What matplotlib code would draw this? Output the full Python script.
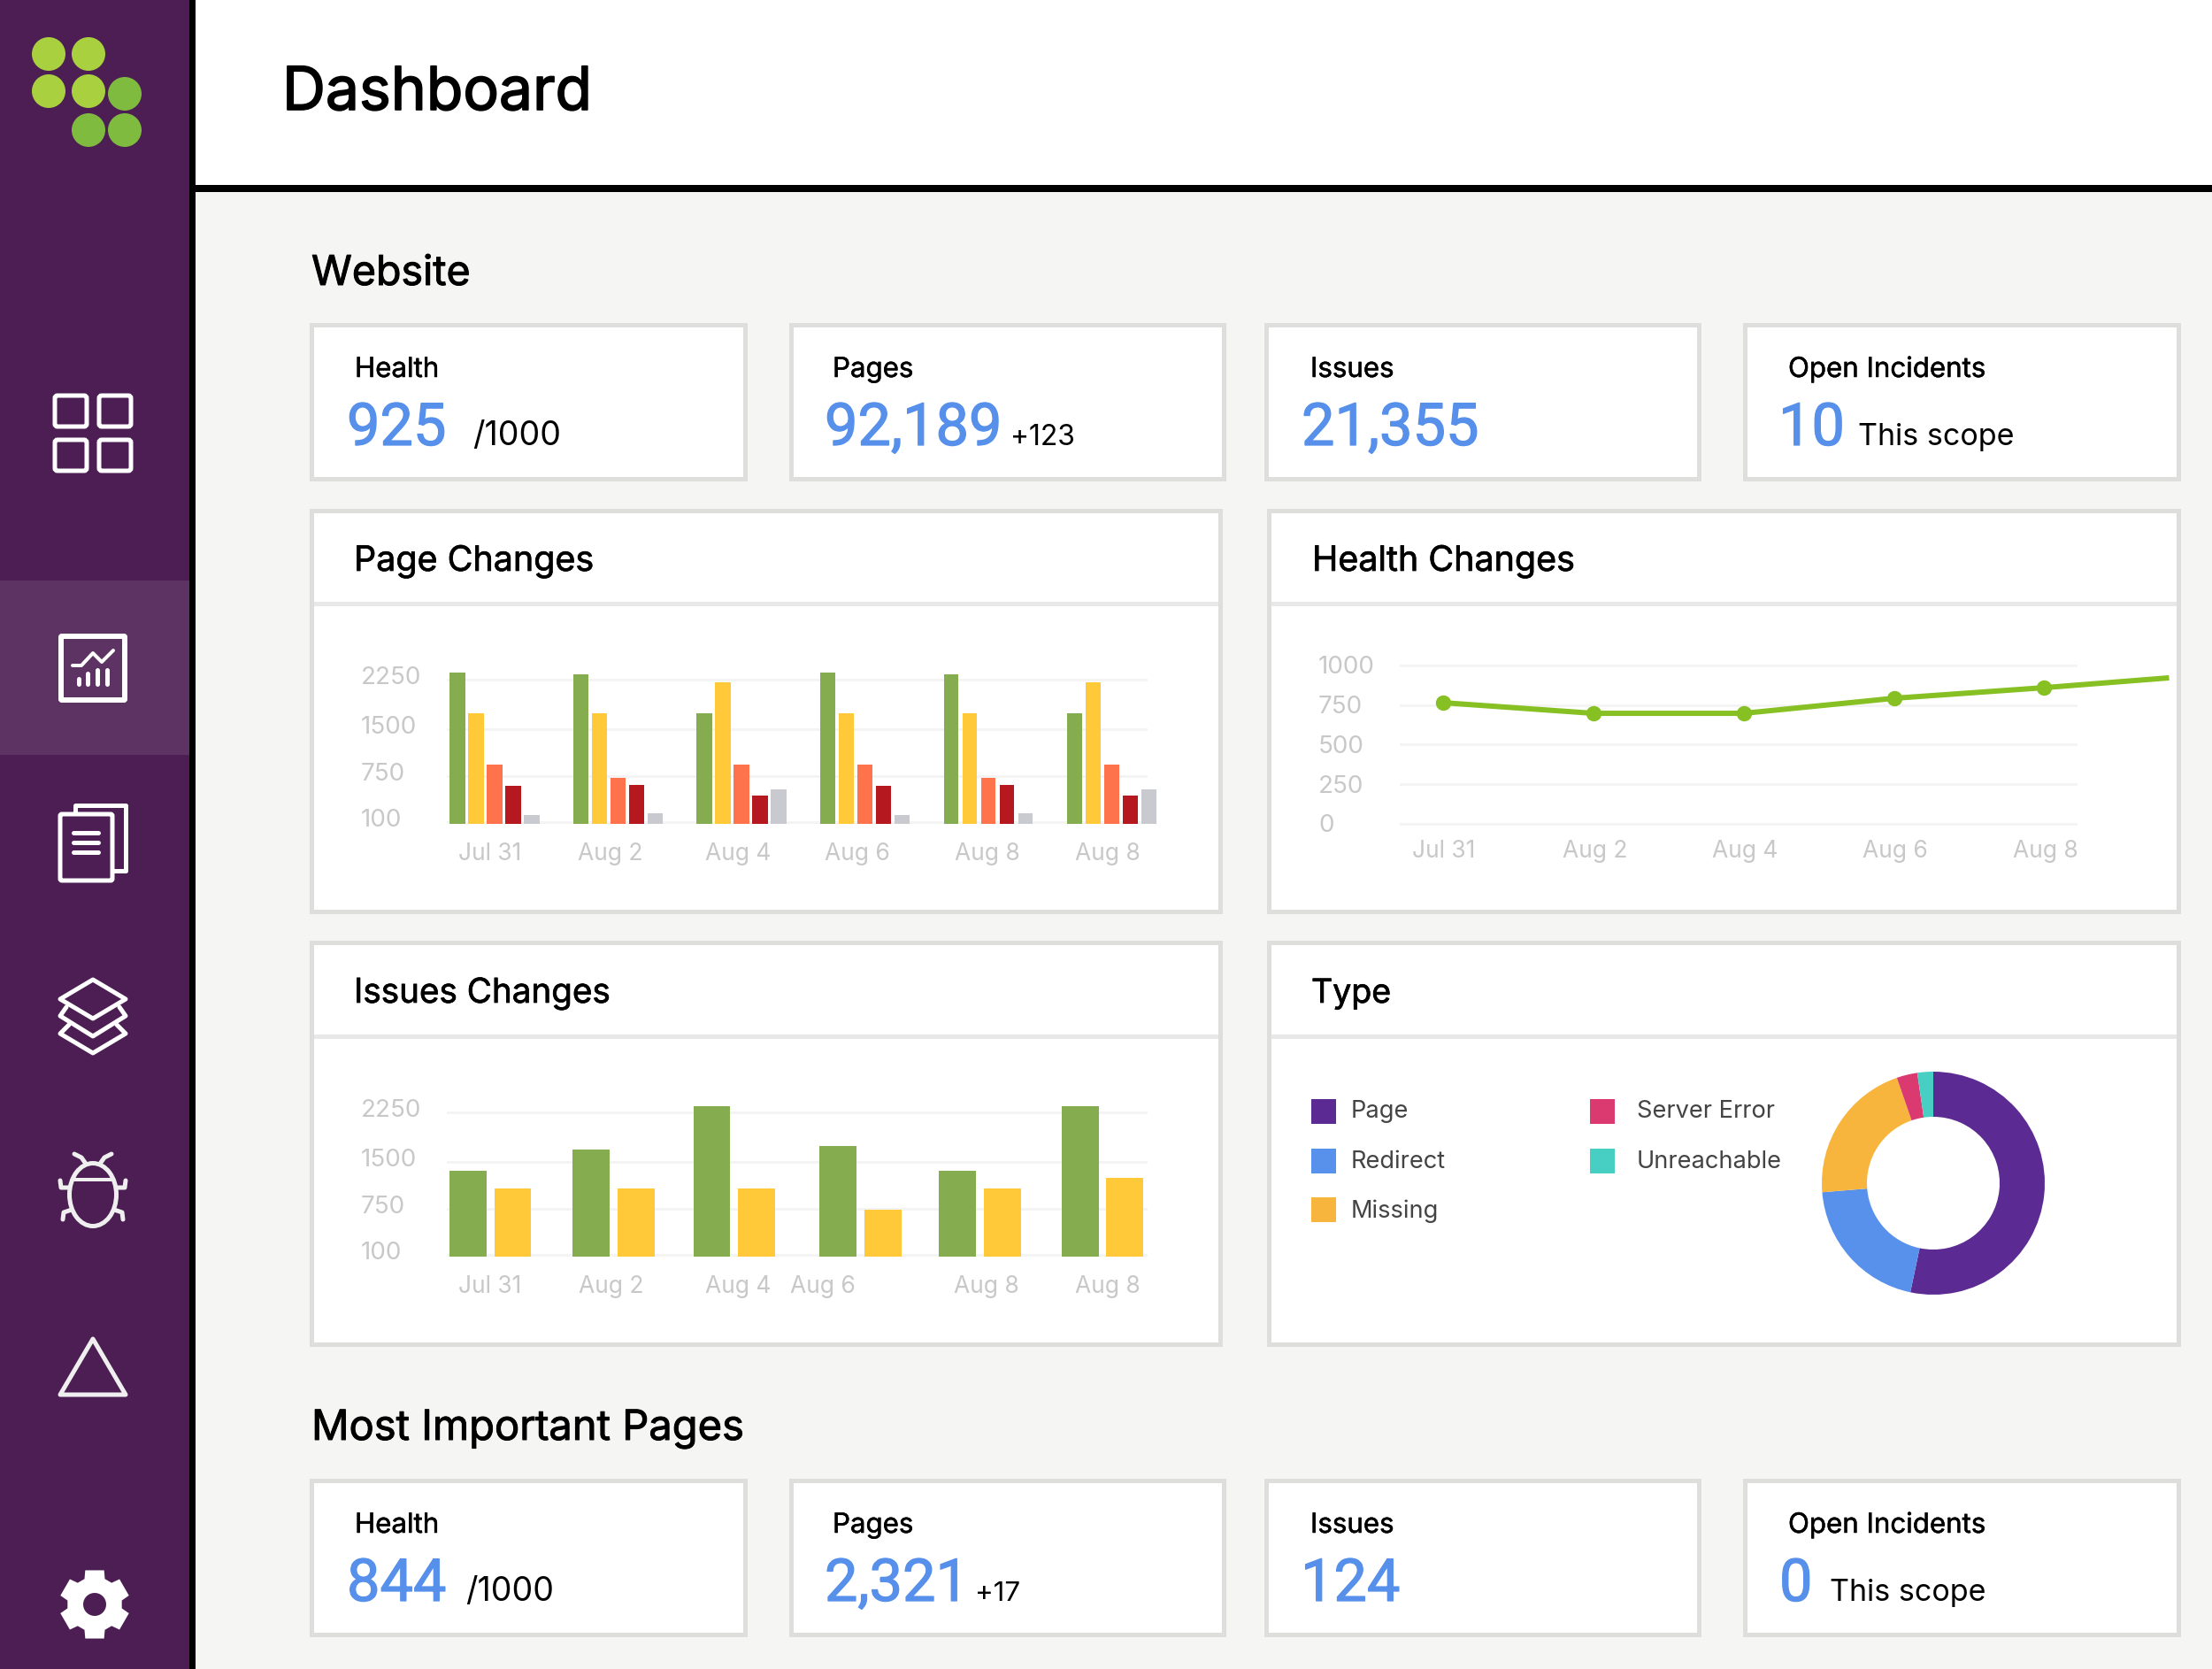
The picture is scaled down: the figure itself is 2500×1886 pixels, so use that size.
#!/usr/bin/env python3
"""Site audit dashboard mockup: sidebar, stat cards, three charts and a donut."""
import numpy as np
import matplotlib
matplotlib.use("Agg")
import matplotlib.pyplot as plt
import matplotlib.patheffects as pe
from matplotlib.patches import Rectangle, FancyBboxPatch, Circle, Ellipse, Polygon, PathPatch
from matplotlib.path import Path
from matplotlib.transforms import ScaledTranslation

W, H = 2500, 1886
PX = 0.72  # points per pixel at dpi 100

SIDEBAR = "#4C1E53"
SIDEBAR_ON = "#5D3363"
BG = "#F5F5F3"
BORDER = "#DEDEDC"
DIVIDER = "#E8E8E8"
GRID = "#F4F4F4"
TICK = "#C8C8C8"
BLUE = "#5790EB"
GREEN = "#85AC4E"
YELLOW = "#FFC93A"
ORANGE = "#FF734C"
RED = "#B5181F"
GREY = "#C9CACF"
LINE_GREEN = "#86C023"

# ---- data ----
DATES = ["Jul 31", "Aug 2", "Aug 4", "Aug 6", "Aug 8", "Aug 8"]
AXIS_TICKS = [100, 750, 1500, 2250]
AXIS_LABELS = ["100", "750", "1500", "2250"]

PAGE_GREEN = [2360, 2330, 1740, 2360, 2330, 1740]
PAGE_YELLOW = [1740, 1740, 2210, 1740, 1740, 2210]
PAGE_ORANGE = [935, 725, 935, 935, 725, 935]
PAGE_RED = [612, 625, 475, 612, 625, 475]
PAGE_GREY = [200, 225, 560, 200, 225, 560]

ISSUE_GREEN = [1358, 1690, 2345, 1740, 1358, 2345]
ISSUE_YELLOW = [1075, 1075, 1075, 740, 1075, 1245]

HEALTH_X = [0, 1, 2, 3, 4, 4.83]
HEALTH_Y = [765, 698, 698, 793, 860, 922]
HEALTH_TICKS = [0, 250, 500, 750, 1000]

TYPE_NAMES = ["Page", "Redirect", "Missing", "Server Error", "Unreachable"]
TYPE_SHARE = [53.3, 20.4, 21.0, 3.0, 2.3]
TYPE_COLORS = ["#5C2A93", "#5891EB", "#F7B53D", "#DB3A70", "#48CFC3"]

# the bar charts' value axis is not linear: its ticks are about evenly spaced
SCALE_VALUES = [75, 100, 750, 1500, 2250, 3000]
SCALE_STEPS = [-2, 0, 52, 105, 161, 217]

plt.rcParams["font.family"] = ["Inter", "Roboto", "DejaVu Sans"]

fig = plt.figure(figsize=(W / 100, H / 100), dpi=100)
fig.patch.set_facecolor(BG)

# full-figure layer in pixel coordinates for the page furniture
page = fig.add_axes([0, 0, 1, 1], zorder=0)
page.set_xlim(0, W)
page.set_ylim(H, 0)
page.axis("off")


def rect(x0, y0, x1, y1, color, z=1):
    page.add_patch(Rectangle((x0, y0), x1 - x0, y1 - y0, facecolor=color, edgecolor="none", zorder=z))


def card(x0, y0, x1, y1, divider=None):
    rect(x0, y0, x1, y1, BORDER)
    rect(x0 + 5, y0 + 5, x1 - 5, y1 - 5, "white", z=1.1)
    if divider:
        rect(x0 + 5, divider - 2.5, x1 - 5, divider + 2.5, DIVIDER, z=1.2)


def label(x, y, s, size, color="black", bold=0, family=None):
    # Inter has no medium cut here, so a thin outline gives the heavier titles
    t = page.text(x, y, s, fontsize=size, color=color, va="baseline", ha="left",
                  family=family or plt.rcParams["font.family"], zorder=3)
    if bold:
        t.set_path_effects([pe.withStroke(linewidth=bold, foreground=color)])


def panel(x0, y0, x1, y1):
    ax = fig.add_axes([x0 / W, 1 - y1 / H, (x1 - x0) / W, (y1 - y0) / H], zorder=2)
    ax.patch.set_visible(False)
    for s in ax.spines.values():
        s.set_visible(False)
    return ax


def stroke(points, lw=5, color="white", closed=False):
    page.add_patch(Polygon(points, closed=closed, fill=False, edgecolor=color, linewidth=lw * PX,
                           joinstyle="round", capstyle="round", zorder=4))


def rounded(x0, y0, x1, y1, lw=5, pad=3):
    page.add_patch(FancyBboxPatch((x0 + pad, y0 + pad), x1 - x0 - 2 * pad, y1 - y0 - 2 * pad,
                                  boxstyle=f"round,pad={pad}", fill=False, edgecolor="white",
                                  linewidth=lw * PX, zorder=4))


# ---- shell ----
rect(0, 0, 214, H, SIDEBAR)
rect(0, 656, 214, 853, SIDEBAR_ON, z=1.1)
rect(214, 0, 221, H, "black", z=1.1)
rect(221, 0, W, 209, "white")
rect(221, 209, W, 216.5, "black", z=1.1)

for cx, cy, c in [(55, 61, "#A9D03F"), (100, 61, "#A9D03F"), (55, 103, "#A9D03F"), (100, 103, "#A9D03F"),
                  (141, 106, "#7FBB3F"), (100, 147, "#7FBB3F"), (141, 147, "#7FBB3F")]:
    page.add_patch(Circle((cx, cy), 19, facecolor=c, edgecolor="none", zorder=4))

# overview icon
for x0, x1 in [(62, 98), (112, 148)]:
    for y0, y1 in [(447, 482), (497, 532)]:
        rounded(x0, y0, x1, y1)

# report icon
rounded(69, 719, 141, 791, lw=6, pad=1)
stroke([(82, 752), (92, 752), (105, 738), (115, 748), (128, 735)], lw=4)
for bx, by in [(89, 767), (99, 761), (110, 757), (121, 757)]:
    page.plot([bx, bx], [by, 773], color="white", lw=5 * PX, solid_capstyle="round", zorder=4)

# documents icon
rounded(68, 920, 127, 995, pad=2)
stroke([(85, 918), (85, 910), (142, 910), (142, 984), (129, 984)])
for ly in (941, 952, 963):
    page.plot([83, 111], [ly, ly], color="white", lw=5 * PX, solid_capstyle="round", zorder=4)

# layers icon
stroke([(68, 1129), (105, 1107), (142, 1129), (105, 1151)], closed=True)
stroke([(75, 1138), (68, 1148), (105, 1171), (142, 1148), (135, 1138)])
stroke([(78, 1158), (68, 1168), (105, 1190), (142, 1168), (132, 1158)])

# bug icon
BUG = "#EFEFEF"
page.add_patch(Ellipse((105, 1350), 53, 71, fill=False, edgecolor=BUG, linewidth=5 * PX, zorder=4))
page.plot([82, 128], [1333, 1333], color=BUG, lw=4 * PX, zorder=4)
for sign in (-1, 1):
    stroke([(105 + sign * 21, 1304), (105 + sign * 13, 1308), (105 + sign * 8, 1315)], color=BUG)
    stroke([(105 + sign * 37, 1334), (105 + sign * 36, 1342), (105 + sign * 27, 1342)], color=BUG)
    stroke([(105 + sign * 34, 1378), (105 + sign * 33, 1370), (105 + sign * 24, 1367)], color=BUG)

# alerts icon
stroke([(105, 1513), (68, 1576), (142, 1576)], color=BUG, closed=True)

# settings icon
gear = []
for i in range(6):
    a = np.deg2rad(90 + 60 * i)
    for da, r in [(-0.38, 31), (-0.27, 40), (0.27, 40), (0.38, 31)]:
        gear.append((107 + r * np.cos(a + da), 1813 + r * np.sin(a + da)))
hole = [(107 + 13 * np.cos(t), 1813 + 13 * np.sin(t)) for t in np.linspace(2 * np.pi, 0, 40)]
verts = gear + [gear[0]] + hole
codes = [Path.MOVETO] + [Path.LINETO] * (len(gear) - 1) + [Path.CLOSEPOLY]
codes += [Path.MOVETO] + [Path.LINETO] * (len(hole) - 2) + [Path.CLOSEPOLY]
page.add_patch(PathPatch(Path(verts, codes), facecolor="white", edgecolor="none", zorder=4))

# ---- headings ----
label(319, 124, "Dashboard", 48.8, bold=1.2)
label(352, 322, "Website", 33.5, bold=0.7)
label(352, 1627, "Most Important Pages", 33.9, bold=0.7)

# ---- stat cards ----
CARD_X = [(350, 845), (892, 1386), (1429, 1923), (1970, 2465)]


def stat_row(y0, items):
    for (x0, x1), (title, tx, value, vx, extra, ex, size) in zip(CARD_X, items):
        card(x0, y0, x1, y0 + 179)
        label(tx, y0 + 61, title, 22.5, bold=0.35)
        label(vx, y0 + 138, value, 48, color=BLUE, family=["Roboto"], bold=0.9)
        if extra:
            label(ex, y0 + 138, extra, size)


stat_row(365, [("Health", 401, "925", 392, "/1000", 534, 27), ("Pages", 941, "92,189", 932, "+123", 1142, 23),
               ("Issues", 1481, "21,355", 1471, "", 0, 0), ("Open Incidents", 2021, "10", 2010, "This scope", 2100, 24.5)])
stat_row(1671, [("Health", 401, "844", 392, "/1000", 526, 27), ("Pages", 941, "2,321", 932, "+17", 1102, 22.5),
                ("Issues", 1481, "124", 1470, "", 0, 0), ("Open Incidents", 2021, "0", 2011, "This scope", 2068, 24.5)])

# ---- chart cards ----
card(350, 575, 1382, 1033, divider=682)
card(1432, 575, 2465, 1033, divider=682)
card(350, 1063, 1382, 1522, divider=1171)
card(1432, 1063, 2465, 1522, divider=1171)
label(400, 645, "Page Changes", 28.4, bold=0.5)
label(1483, 645, "Health Changes", 28.4, bold=0.5)
label(400, 1133, "Issues Changes", 27.8, bold=0.5)
label(1482, 1133, "Type", 27, bold=0.5)


def forward(v):
    return np.interp(v, SCALE_VALUES, SCALE_STEPS)


def inverse(p):
    return np.interp(p, SCALE_STEPS, SCALE_VALUES)


def style_axis(ax, ticks, labels, xticks, label_left, lift, xpad):
    ax.set_yticks(ticks, labels)
    ax.set_xticks(xticks, DATES[:len(xticks)])
    ax.grid(True, axis="y", color=GRID, linewidth=3 * PX)
    ax.grid(False, axis="x")
    ax.set_axisbelow(True)
    ax.tick_params(axis="both", length=0, labelcolor=TICK)
    ax.tick_params(axis="y", pad=label_left * PX, labelsize=20)
    ax.tick_params(axis="x", pad=xpad * PX, labelsize=19)
    shift = ScaledTranslation(0, lift / 100, fig.dpi_scale_trans)
    for t in ax.get_yticklabels():
        t.set_ha("left")
        t.set_transform(t.get_transform() + shift)


def value_axis(ax):
    ax.set_yscale("function", functions=(forward, inverse))
    ax.set_ylim(75, 3000)
    ax.minorticks_off()


# page changes
ax = panel(505, 712, 1297, 931)
value_axis(ax)
ax.set_xlim(-0.387, 5.29)
groups = np.arange(len(PAGE_GREEN))
page_widths = np.array([0.125, 0.115, 0.125, 0.125, 0.115, 0.125])
for k, (vals, c) in enumerate(zip([PAGE_GREEN, PAGE_YELLOW, PAGE_ORANGE, PAGE_RED, PAGE_GREY],
                                  [GREEN, YELLOW, ORANGE, RED, GREY])):
    heights = np.array(vals) - 75
    ax.bar(groups + (k - 2) * 0.1505, heights, width=page_widths, bottom=75, color=c, clip_on=False)
style_axis(ax, AXIS_TICKS, AXIS_LABELS, [-0.036, 0.94, 1.97, 2.94, 3.99, 4.97], 97, 5, 21)

# issues changes, bars sit a little unevenly inside their groups
ax = panel(505, 1201, 1297, 1420)
value_axis(ax)
ax.set_xlim(-0.3615, 5.365)
green_x = [-0.188, 0.817, 1.804, 2.834, 3.81, 4.816]
yellow_x = [0.177, 1.186, 2.169, 3.203, 4.179, 5.177]
ax.bar(green_x, np.array(ISSUE_GREEN) - 75, width=0.3, bottom=75, color=GREEN, clip_on=False)
ax.bar(yellow_x, np.array(ISSUE_YELLOW) - 75, width=0.3, bottom=75, color=YELLOW, clip_on=False)
style_axis(ax, AXIS_TICKS, AXIS_LABELS, [-0.007, 0.98, 2.02, 2.71, 4.05, 5.04], 97, 5, 21)

# health changes
ax = panel(1583, 752, 2346, 931)
ax.set_ylim(0, 1000)
ax.set_xlim(-0.2825, 4.209)
ax.plot(HEALTH_X, HEALTH_Y, color=LINE_GREEN, linewidth=6 * PX, marker="o", markersize=16 * PX,
        markevery=[0, 1, 2, 3, 4], clip_on=False, solid_capstyle="butt", zorder=3)
style_axis(ax, HEALTH_TICKS, [str(v) for v in HEALTH_TICKS], [0.005, 1.01, 2.01, 3.01, 4.01], 93, 0.5, 18)
for gl in ax.get_ygridlines():
    gl.set_clip_on(False)

# type donut
ax = panel(2059, 1211, 2311, 1463)
ax.pie(TYPE_SHARE, colors=TYPE_COLORS, startangle=90, counterclock=False, radius=1,
       wedgeprops={"width": 51 / 126, "linewidth": 0})
ax.set_xlim(-1, 1)
ax.set_ylim(-1, 1)

for i, (name, c) in enumerate(zip(TYPE_NAMES, TYPE_COLORS)):
    col, row = (0, i) if i < 3 else (1, i - 3)
    sx = [1482, 1797][col]
    sy = 1242 + row * 55.5
    rect(sx, sy, sx + 28, sy + 28, c, z=2)
    page.text([1527, 1850][col], sy + 14 + row * 1, name, fontsize=19.6, color="#444444", va="center", ha="left", zorder=3)

fig.savefig("out.png", dpi=100, facecolor=fig.get_facecolor())
